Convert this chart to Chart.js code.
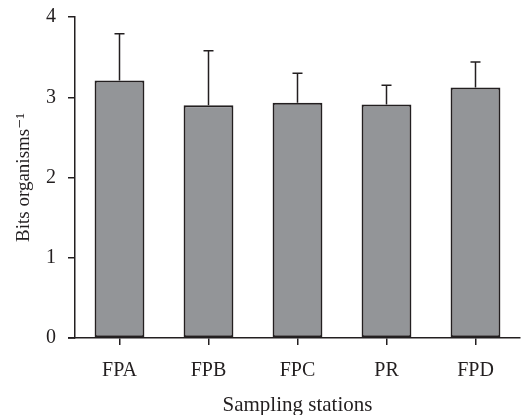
<!DOCTYPE html>
<html>
<head>
<meta charset="utf-8">
<script src="https://cdn.jsdelivr.net/npm/chart.js@4/dist/chart.umd.min.js"></script>
<style>
  html, body { margin: 0; padding: 0; background: #fff; }
  #wrap { width: 522px; height: 415px; }
</style>
</head>
<body>
<div id="wrap"><canvas id="chart1" width="522" height="415"></canvas></div>
<script>
const stations = ['FPA', 'FPB', 'FPC', 'PR', 'FPD'];
const meanBits = [3.21, 2.90, 2.93, 2.91, 3.12];
const errorUp = [0.58, 0.68, 0.37, 0.24, 0.32];
const yTicks = [0, 1, 2, 3, 4];

const ink = '#231f20';
const serif = "'Liberation Serif', 'DejaVu Serif', serif";

// upward error bars with a cap
const errorBars = {
    id: 'errorBars',
    afterDatasetsDraw(chart) {
        const ctx = chart.ctx;
        const y = chart.scales.y;
        const meta = chart.getDatasetMeta(0);
        ctx.save();
        ctx.strokeStyle = ink;
        ctx.lineWidth = 1.5;
        meta.data.forEach((bar, i) => {
            const top = y.getPixelForValue(meanBits[i] + errorUp[i]);
            ctx.beginPath();
            ctx.moveTo(bar.x, bar.y);
            ctx.lineTo(bar.x, top);
            ctx.moveTo(bar.x - 5, top);
            ctx.lineTo(bar.x + 5, top);
            ctx.stroke();
        });
        // x axis line runs a little left past the y axis
        ctx.beginPath();
        ctx.moveTo(chart.chartArea.left - 7, y.getPixelForValue(0));
        ctx.lineTo(chart.chartArea.left, y.getPixelForValue(0));
        ctx.stroke();
        ctx.restore();
    }
};

const ctx = document.getElementById('chart1').getContext('2d');
new Chart(ctx, {
    type: 'bar',
    data: {
        labels: stations,
        datasets: [{
            data: meanBits,
            backgroundColor: '#939598',
            borderColor: ink,
            borderWidth: 2,
            borderSkipped: false,
            barPercentage: 0.56,
            categoryPercentage: 1.0
        }]
    },
    options: {
        responsive: false,
        animation: false,
        layout: { padding: { top: 17, right: 2, left: 0, bottom: 0 } },
        plugins: { legend: { display: false }, tooltip: { enabled: false } },
        scales: {
            x: {
                afterFit(scale) { scale.height = 77; },
                grid: { offset: false, drawOnChartArea: false, drawTicks: true, tickLength: 7, color: ink, lineWidth: 1.5 },
                border: { display: true, color: ink, width: 1.5 },
                ticks: { color: ink, font: { family: serif, size: 20 }, padding: 14 },
                title: { display: true, text: 'Sampling stations', color: ink, font: { family: serif, size: 21 }, padding: { top: 4, bottom: -3 } }
            },
            y: {
                min: 0,
                max: 4,
                afterFit(scale) { scale.width = 75; scale.paddingTop = 0; scale.paddingBottom = 0; },
                afterBuildTicks(scale) { scale.ticks = yTicks.map(v => ({ value: v })); },
                grid: { drawOnChartArea: false, drawTicks: true, tickLength: 7, color: ink, lineWidth: 1.5 },
                border: { display: true, color: ink, width: 1.5 },
                ticks: { color: ink, font: { family: serif, size: 20 }, padding: 12 },
                title: { display: true, text: 'Bits organisms\u207B\u00B9', color: ink, font: { family: serif, size: 19 }, padding: { top: 13, bottom: 0 } }
            }
        }
    },
    plugins: [errorBars]
});
</script>
</body>
</html>
